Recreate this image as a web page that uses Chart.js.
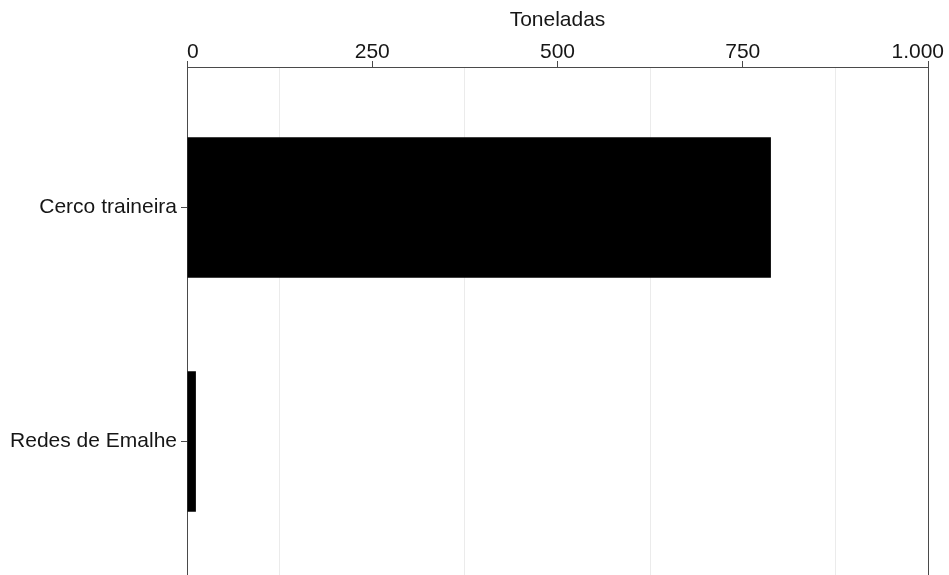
<!DOCTYPE html>
<html lang="pt">
<head>
<meta charset="utf-8">
<title>Toneladas por arte de pesca</title>
<script src="https://cdn.jsdelivr.net/npm/chart.js@4/dist/chart.umd.min.js"></script>
<style>
    html, body { margin: 0; padding: 0; background: #fff; }
    #wrap { width: 949px; height: 575px; position: relative; }
</style>
</head>
<body>
<div id="wrap"><canvas id="catch-chart"></canvas></div>
<script>
// Capturas por arte de pesca (toneladas)
const gears = ['Cerco traineira', 'Redes de Emalhe'];
const tonnes = [788, 12];

// Eixo das toneladas
const xTickValues = [0, 250, 500, 750, 1000];
const xTickLabels = ['0', '250', '500', '750', '1.000'];
const xMax = 1000;

// Posições das categorias no eixo vertical (1, 2) e a sua margem
const yMin = 0.4;
const yMax = 2.57;

const textColor = '#161616';
const axisColor = '#4a4a4a';
const gridColor = '#ebebeb';
const fontFamily = '"Liberation Sans", Arial, sans-serif';
const fontSize = 21;

// Rótulos do eixo superior, mantidos dentro da área visível
const topLabels = {
    id: 'topLabels',
    afterDraw(chart) {
        const { ctx, chartArea, scales: { x } } = chart;
        ctx.save();
        ctx.font = `${fontSize}px ${fontFamily}`;
        ctx.fillStyle = textColor;
        ctx.textBaseline = 'alphabetic';
        xTickValues.forEach((v, i) => {
            const label = xTickLabels[i];
            const w = ctx.measureText(label).width;
            let left = x.getPixelForValue(v) - w / 2;
            left = Math.min(Math.max(left, chartArea.left), chart.width - 5 - w);
            ctx.fillText(label, left, chartArea.top - 9);
        });
        ctx.restore();
    }
};

const ctx = document.getElementById('catch-chart').getContext('2d');

new Chart(ctx, {
    type: 'bar',
    data: {
        datasets: [{
            data: gears.map((g, i) => ({ y: i + 1, x: tonnes[i] })),
            backgroundColor: '#000',
            borderWidth: 0,
            categoryPercentage: 0.6,
            barPercentage: 1,
        }],
    },
    options: {
        indexAxis: 'y',
        responsive: true,
        maintainAspectRatio: false,
        animation: false,
        layout: { padding: { top: 0, right: 21, bottom: 0, left: 0 } },
        plugins: {
            legend: { display: false },
            tooltip: { enabled: false },
        },
        scales: {
            x: {
                type: 'linear',
                position: 'top',
                min: 0,
                max: xMax,
                title: {
                    display: true,
                    text: 'Toneladas',
                    color: textColor,
                    font: { family: fontFamily, size: fontSize, lineHeight: '24px' },
                    padding: { top: 8, bottom: 3 },
                },
                ticks: {
                    stepSize: 125,
                    autoSkip: false,
                    maxRotation: 0,
                    padding: 1,
                    color: 'transparent',
                    font: { family: fontFamily, size: fontSize, lineHeight: '24px' },
                    callback: v => {
                        const i = xTickValues.indexOf(v);
                        return i >= 0 ? xTickLabels[i] : '';
                    },
                },
                grid: {
                    tickLength: 6,
                    color: c => {
                        const v = c.tick ? c.tick.value : 0;
                        if (v === xMax) return axisColor;
                        return v % 250 === 0 ? 'transparent' : gridColor;
                    },
                    tickColor: c => (c.tick && c.tick.value % 250 === 0 ? axisColor : 'transparent'),
                },
                border: { display: true, color: axisColor, width: 1 },
                afterFit: scale => {
                    scale.paddingLeft = 0;
                    scale.paddingRight = 0;
                },
            },
            y: {
                type: 'linear',
                reverse: true,
                offset: false,
                min: yMin,
                max: yMax,
                afterBuildTicks: scale => {
                    scale.ticks = gears.map((g, i) => ({ value: i + 1 }));
                },
                ticks: {
                    autoSkip: false,
                    padding: 4,
                    color: textColor,
                    font: { family: fontFamily, size: fontSize },
                    callback: v => gears[v - 1] || '',
                },
                grid: {
                    offset: false,
                    drawOnChartArea: false,
                    tickLength: 6,
                    tickColor: axisColor,
                },
                border: { display: true, color: axisColor, width: 1 },
                afterFit: scale => {
                    scale.width = 187;
                    scale.paddingTop = 0;
                    scale.paddingBottom = 0;
                },
            },
        },
    },
    plugins: [topLabels],
});
</script>
</body>
</html>
